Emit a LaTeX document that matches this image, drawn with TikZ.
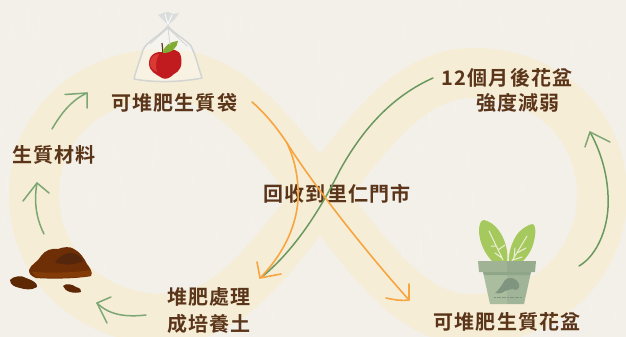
\documentclass[tikz,border=0pt]{standalone}
\usepackage{fontspec}
\newfontfamily\cjkbold[LetterSpace=6]{Noto Sans CJK TC Bold}
\definecolor{paper}{HTML}{F3F0E9}
\definecolor{band}{HTML}{F6EDD6}
\definecolor{ink}{HTML}{5A3519}
\definecolor{sage}{HTML}{7CA673}
\definecolor{leafline}{HTML}{69995F}
\definecolor{tangerine}{HTML}{F6A540}
\definecolor{soil}{HTML}{6E2F06}
\definecolor{soildark}{HTML}{54270C}
\definecolor{soilwarm}{HTML}{833C08}
\definecolor{apple}{HTML}{C11A1F}
\definecolor{applelit}{HTML}{D93A36}
\definecolor{appleleaf}{HTML}{7FAC33}
\definecolor{sack}{HTML}{D2D5D3}
\definecolor{potlight}{HTML}{AABD9F}
\definecolor{potdark}{HTML}{A0B498}
\definecolor{rimlight}{HTML}{A0B495}
\definecolor{rimdark}{HTML}{97AC8E}
\definecolor{potshade}{HTML}{8FA688}
\definecolor{plant}{HTML}{A6C95E}
\definecolor{vein}{HTML}{EBEFD8}
\definecolor{kiwi}{HTML}{7F9580}
\tikzset{
  caption/.style={font=\cjkbold\fontsize{20}{27}\selectfont, text=ink, inner sep=0pt, align=center},
  flow/.style={draw=sage, line width=1.5pt, line cap=round, line join=round},
  longflow/.style={draw=leafline, line width=1.5pt, line cap=round, line join=round},
  orangeflow/.style={draw=tangerine, line width=1.6pt, line cap=round, line join=round},
}
\begin{document}
\begin{tikzpicture}[x=1pt,y=-1pt]
\useasboundingbox (0,0) rectangle (626,337);
\fill[paper] (0,0) rectangle (626,337);

% fibres of the paper
\pgfmathsetseed{41}
\foreach \i in {1,...,150}{
  \pgfmathsetmacro{\px}{rnd*626}
  \pgfmathsetmacro{\py}{rnd*320}
  \pgfmathsetmacro{\pl}{6+rnd*16}
  \draw[white, opacity=0.12, line width=2pt, line cap=round] (\px,\py) -- ++(0.8,\pl);
}

% infinity band
\draw[band, line width=50pt]
  (320,195) .. controls (372,128) and (412,73) .. (473,73)
  .. controls (548,73) and (602,125) .. (602,195)
  .. controls (602,265) and (545,319) .. (470,319)
  .. controls (412,319) and (372,262) .. (320,195)
  .. controls (268,128) and (228,74) .. (165,74)
  .. controls (90,74) and (34,125) .. (34,195)
  .. controls (34,265) and (90,319) .. (165,319)
  .. controls (228,319) and (268,262) .. (320,195) -- cycle;

% sack with apple
\begin{scope}
  \fill[white, opacity=0.3] (168,26) .. controls (160,36) and (146,42) .. (143,50)
    .. controls (140,60) and (136,70) .. (134,79)
    .. controls (155,83) and (182,82) .. (202,78)
    .. controls (198,66) and (196,56) .. (191,46)
    .. controls (184,38) and (174,34) .. (168,26) -- cycle;
  \fill[apple] (165,53) .. controls (172,48) and (180,49) .. (181,57)
    .. controls (183,66) and (179,72) .. (174,74)
    .. controls (170,78) and (166,80) .. (162,78)
    .. controls (156,74) and (149,72) .. (149,63)
    .. controls (149,54) and (158,50) .. (165,53) -- cycle;
  \fill[applelit] (150,63) .. controls (150,57) and (155,54) .. (159,54)
    .. controls (156,60) and (155,66) .. (157,72) .. controls (153,70) and (150,68) .. (150,63) -- cycle;
  \draw[ink, line width=1.2pt] (162,43) -- (163,53);
  \fill[appleleaf] (163,53) .. controls (164,45) and (170,42) .. (178,41)
    .. controls (177,48) and (172,53) .. (163,53) -- cycle;
  \draw[sack, line width=1.5pt, line join=round, line cap=round]
    (168,26) .. controls (160,36) and (146,42) .. (143,50)
    .. controls (140,60) and (136,70) .. (134,79)
    .. controls (155,83) and (182,82) .. (202,78)
    .. controls (198,66) and (196,56) .. (191,46)
    .. controls (184,38) and (174,34) .. (168,26);
  \draw[sack, line width=0.8pt] (168,28) -- (150,44) (168,28) -- (187,46) (168,28) -- (170,45);
  \fill[sack!80!white] (168,25) -- (158,15) -- (163,13) -- (168,12) -- (173,14) -- (179,13) -- (175,19) -- cycle;
  \draw[white, line width=0.8pt] (168,24) -- (165,14) (168,24) -- (172,15);
\end{scope}

% compost heap
\fill[soil] (29,270) .. controls (31,264) and (38,262) .. (41,256)
  .. controls (45,250) and (52,248) .. (58,249) .. controls (63,247) and (70,246) .. (74,249)
  .. controls (80,252) and (84,258) .. (87,264)
  .. controls (90,268) and (93,272) .. (91,276)
  .. controls (75,279) and (50,279) .. (36,278) .. controls (31,276) and (29,274) .. (29,270) -- cycle;
\fill[soilwarm] (32,272) .. controls (50,273) and (75,273) .. (90,270)
  .. controls (92,272) and (92,275) .. (90,276) .. controls (72,278) and (50,278) .. (36,277) -- cycle;
\fill[soildark] (55,262) .. controls (60,256) and (66,252) .. (72,253)
  .. controls (78,254) and (82,258) .. (83,261)
  .. controls (76,265) and (62,266) .. (55,262) -- cycle;
\fill[soil!85!black] (10,280) .. controls (13,276) and (22,275) .. (26,278)
  .. controls (32,280) and (38,283) .. (37,287)
  .. controls (31,291) and (24,289) .. (20,288) .. controls (15,287) and (10,285) .. (10,280) -- cycle;
\fill[soil!85!black] (63,286) .. controls (66,283) and (72,284) .. (76,287)
  .. controls (80,288) and (82,290) .. (81,292)
  .. controls (74,294) and (65,292) .. (63,286) -- cycle;

% potted seedling
\fill[plant] (493,262) .. controls (485,254) and (480,244) .. (479,232)
  .. controls (479,226) and (480,220) .. (484,220)
  .. controls (493,222) and (500,230) .. (504,240)
  .. controls (507,247) and (508,254) .. (507,262) -- cycle;
\fill[plant] (509,262) .. controls (508,254) and (512,240) .. (519,232)
  .. controls (524,227) and (530,224) .. (533,224)
  .. controls (536,226) and (536,234) .. (534,241)
  .. controls (532,250) and (528,256) .. (522,262) -- cycle;
\draw[vein, line width=1pt, line cap=round]
  (503,260) -- (489,231) (496,246) -- (491,246) (498,250) -- (505,245)
  (502,258) -- (495,253) (512,261) -- (527,236) (517,253) -- (526,248)
  (514,258) -- (515,248) (513,260) -- (522,257);
\fill[potlight] (483,272) -- (507,272) -- (507,304) -- (490,304) -- cycle;
\fill[potdark] (507,272) -- (531,272) -- (524,304) -- (507,304) -- cycle;
\fill[potshade] (483,272) -- (531,272) -- (530,275) -- (484,275) -- cycle;
\fill[rimlight] (478,261) -- (507,261) -- (507,272) -- (479,272) -- cycle;
\fill[rimdark] (507,261) -- (536,261) -- (535,272) -- (507,272) -- cycle;
\fill[kiwi] (495,293) .. controls (499,290) and (502,285) .. (505,280)
  .. controls (509,276) and (517,278) .. (519,284)
  .. controls (520,287) and (518,290) .. (516,290)
  .. controls (512,288) and (509,290) .. (505,291)
  .. controls (501,294) and (498,294) .. (495,293) -- cycle;
\draw[kiwi, line width=0.8pt, dash pattern=on 2pt off 0.6pt] (494,297.5) -- (522,297.5);

% captions
\node[caption] (bag) at (174,103) {可堆肥生質袋};
\node[caption] (raw) at (54,155) {生質材料};
\node[caption] (weak) at (507,78) {12個月後花盆};
\node[caption] (weakb) at (518,103) {強度減弱};
\node[caption] (back) at (337,194) {回收到里仁門市};
\node[caption] (soilcap) at (209,310.5) {堆肥處理\\成培養土};
\node[caption] (pot) at (507,322) {可堆肥生質花盆};

% free ends of the arrows
\coordinate (rawtail) at (52,129);
\coordinate (rawtip) at (87,93);
\coordinate (rawbarba) at (65,94.5);
\coordinate (rawbarbb) at (87,108);
\coordinate (heaptail) at (44,234);
\coordinate (heaptip) at (37,183);
\coordinate (heapbarba) at (23,201);
\coordinate (heapbarbb) at (49,193);
\coordinate (soiltail) at (146,315);
\coordinate (soiltip) at (97,303);
\coordinate (soilbarba) at (111,297);
\coordinate (soilbarbb) at (107,323);
\coordinate (oranstart) at (252,102);
\coordinate (fork) at (287,143);
\coordinate (potward) at (409,300);
\coordinate (potbarba) at (386,298);
\coordinate (potbarbb) at (409,284);
\coordinate (soilward) at (260,278);
\coordinate (soilbarbc) at (257,262);
\coordinate (soilbarbd) at (281,274);
\coordinate (weaktail) at (433,78);
\coordinate (weakhead) at (263,276);
\coordinate (risetail) at (579,266);
\coordinate (risetip) at (590,132);
\coordinate (risebarba) at (585,147);
\coordinate (risebarbb) at (610,142);

% arrows
\draw[flow] (rawtail) .. controls (62,112) and (72,100) .. (rawtip);
\draw[flow] (rawbarba) -- (rawtip) -- (rawbarbb);
\draw[flow] (heaptail) .. controls (38,222) and (33,205) .. (heaptip);
\draw[flow] (heapbarba) -- (heaptip) -- (heapbarbb);
\draw[flow] (soiltail) .. controls (128,317) and (110,316) .. (soiltip);
\draw[flow] (soilbarba) -- (soiltip) -- (soilbarbb);
\draw[longflow] (weaktail) .. controls (395,95) and (365,125) .. (340,170)
  .. controls (325,200) and (300,245) .. (weakhead);
\draw[longflow] (risetail) .. controls (598,255) and (610,225) .. (608,195)
  .. controls (607,172) and (600,150) .. (risetip);
\draw[flow] (risebarba) -- (risetip) -- (risebarbb);
\draw[orangeflow] (oranstart) .. controls (265,113) and (277,128) .. (fork)
  .. controls (310,180) and (360,245) .. (potward);
\draw[orangeflow] (potbarba) .. controls (395,300) and (402,301) .. (potward) -- (potbarbb);
\draw[orangeflow] (fork) .. controls (295,160) and (299,180) .. (298,200)
  .. controls (296,230) and (280,258) .. (soilward);
\draw[orangeflow] (soilbarbc) -- (soilward) -- (soilbarbd);
\end{tikzpicture}
\end{document}
